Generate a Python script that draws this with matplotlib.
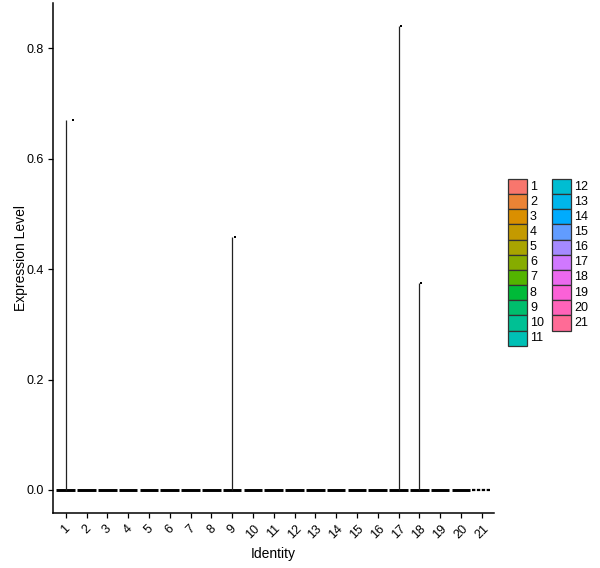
import numpy as np
import matplotlib
matplotlib.use("Agg")
import matplotlib.pyplot as plt
from matplotlib.patches import Rectangle

plt.rcParams['font.family'] = ['Liberation Sans', 'DejaVu Sans']

# Identity groups (clusters) and the highest expression value in each one
groups = list(range(1, 22))
group_labels = [str(g) for g in groups]
max_expr = [0.670, 0, 0, 0, 0, 0, 0, 0, 0.459, 0, 0, 0, 0, 0, 0, 0, 0.841, 0.3755, 0, 0, 0]

# jittered points that stand out above zero
spike_groups = [1, 9, 17, 18]
spike_values = [0.670, 0.459, 0.841, 0.3755]
spike_jitter = [0.35, 0.12, 0.11, 0.07]

yticks = [0.0, 0.2, 0.4, 0.6, 0.8]


def hcl_hex(h, c=100, l=65):
    # ggplot2 style hue colour (polar Luv -> sRGB)
    hr = np.deg2rad(h)
    u = c * np.cos(hr)
    v = c * np.sin(hr)
    Xn, Yn, Zn = 95.047, 100.0, 108.883
    un = 4 * Xn / (Xn + 15 * Yn + 3 * Zn)
    vn = 9 * Yn / (Xn + 15 * Yn + 3 * Zn)
    Y = Yn * ((l + 16) / 116) ** 3
    up = u / (13 * l) + un
    vp = v / (13 * l) + vn
    X = 9 * Y * up / (4 * vp)
    Z = Y * (12 - 3 * up - 20 * vp) / (4 * vp)
    xyz = np.array([X, Y, Z]) / 100
    M = np.array([[3.2404542, -1.5371385, -0.4985314],
                  [-0.9692660, 1.8760108, 0.0415560],
                  [0.0556434, -0.2040259, 1.0572252]])
    rgb = np.clip(M @ xyz, 0, 1)
    rgb = np.where(rgb <= 0.0031308, 12.92 * rgb, 1.055 * rgb ** (1 / 2.4) - 0.055)
    return tuple(np.clip(rgb, 0, 1))


hues = np.linspace(15, 375, len(groups) + 1)[:-1]
colors = [hcl_hex(h) for h in hues]

fig = plt.figure(figsize=(6, 5.68), dpi=100)
ax = fig.add_axes([0.0887, 0.0968, 0.735, 0.898])

g = np.array(groups, dtype=float)
mx = np.array(max_expr)

# flat violins at zero
ax.hlines(np.zeros(len(g) - 1), g[:-1] - 0.45, g[:-1] + 0.45, colors='black', lw=2.1)
ax.hlines([0], g[-1:] - 0.45, g[-1:] + 0.45, colors='black', lw=1.6,
          linestyles=[(0, (1.5, 0.7))])
# thin violin tails up to the max value
has = mx > 0
ax.vlines(g[has], 0, mx[has], colors='#222222', lw=0.9)
# jitter points
ax.plot(np.array(spike_groups) + np.array(spike_jitter), spike_values, 's',
        color='black', ms=2.0, mew=0)

ax.set_xlim(0.4, 21.6)
ax.set_ylim(-0.042, 0.8825)
ax.set_xticks(groups)
ax.set_xticklabels(group_labels, rotation=45, fontsize=9)
ax.set_yticks(yticks)
ax.set_yticklabels([f"{t:.1f}" for t in yticks], fontsize=9)
ax.tick_params(length=3.5, width=0.9, colors='black')
for s in ['top', 'right']:
    ax.spines[s].set_visible(False)
for s in ['left', 'bottom']:
    ax.spines[s].set_linewidth(1.1)
ax.set_xlabel("Identity", fontsize=10, labelpad=4)
ax.set_ylabel("Expression Level", fontsize=10, labelpad=-1)

# legend drawn in figure pixel space
lax = fig.add_axes([0, 0, 1, 1])
lax.set_xlim(0, 600)
lax.set_ylim(568, 0)
lax.axis('off')
row_h = 15.15
for i, (lab, col) in enumerate(zip(group_labels, colors)):
    c = 0 if i < 11 else 1
    r = i if i < 11 else i - 11
    kx = 508 if c == 0 else 552
    ky = 179 + r * row_h
    lax.add_patch(Rectangle((kx, ky), 18.5, row_h, facecolor=col,
                            edgecolor='#333333', lw=0.9))
    lax.text(kx + 22, ky + row_h / 2, lab, fontsize=9, va='center', ha='left')

fig.savefig("out.png", dpi=100)
